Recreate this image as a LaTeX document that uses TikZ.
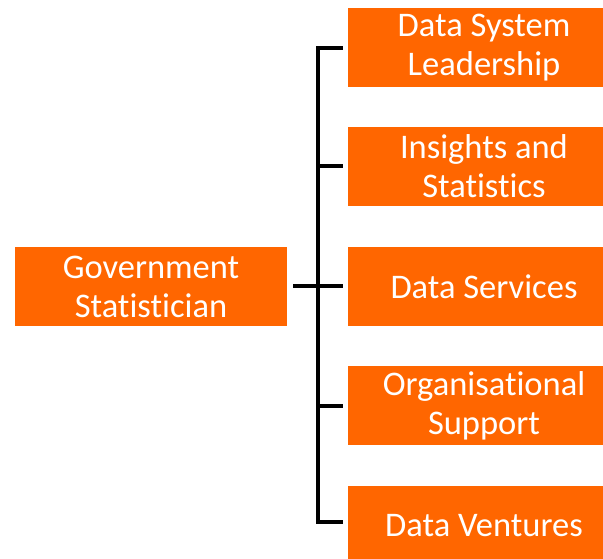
\documentclass[tikz,border=0pt]{standalone}
\usepackage{fontspec}
\setmainfont[Ligatures=NoCommon]{Carlito}
\definecolor{boxorange}{HTML}{FF6600}
\begin{document}
\begin{tikzpicture}[x=1pt,y=1pt,
  orgbox/.style={fill=boxorange, draw=none, minimum width=272pt, minimum height=79pt,
    text=white, align=center, font=\fontsize{34.5}{39}\selectfont, inner sep=0pt},
  link/.style={line width=4pt, black}]
\useasboundingbox (0,0) rectangle (603,558);
\clip (0,0) rectangle (603,558);
\node[orgbox] (gs) at (151,271.5) {Government\\Statistician};
\node[orgbox] (b1) at (484,510.5) {Data System\\Leadership};
\node[orgbox] (b2) at (484,391.5) {Insights and\\Statistics};
\node[orgbox] (b3) at (484,271.5) {Data Services};
\node[orgbox] (b4) at (484,152.5) {Organisational\\Support};
\node[orgbox] (b5) at (484,32.5) {Data Ventures};
\coordinate (top) at (318,510);
\coordinate (bot) at (318,36);
\draw[link] ([xshift=-5pt]b1.west |- top) -- (top) -- (bot) -- ([xshift=-5pt]b5.west |- bot);
\draw[link] ([xshift=6pt]gs.east) -- ([xshift=-5pt]b3.west);
\draw[link] (318,391.5) -- ([xshift=-5pt]b2.west);
\draw[link] (318,152.5) -- ([xshift=-5pt]b4.west);
\end{tikzpicture}
\end{document}
